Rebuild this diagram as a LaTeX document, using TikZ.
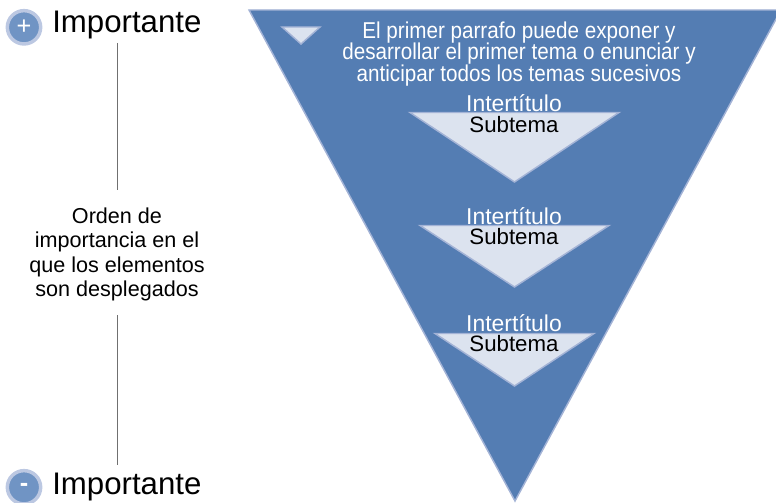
\documentclass[tikz,border=0pt]{standalone}
\usepackage{fontspec}
\setmainfont{Liberation Sans}
\newfontfamily\condfont[FakeStretch=0.90]{Liberation Sans}
\tikzset{
  px/.style={x=0.75pt,y=-0.75pt},
  funnel/.style={fill=blueMain,draw=blueEdge,line width=1.1pt,line join=miter},
  inner/.style={fill=blueLight,draw=blueEdge,line width=1.1pt,line join=miter},
  badgeouter/.style={circle,draw=badgeRing,line width=2.6pt,fill=badgeFill,minimum size=25pt,inner sep=0pt,text=white,font=\fontsize{19}{19}\selectfont},
  label/.style={inner sep=0pt,font=\fontsize{23.4}{24}\selectfont,text=black,anchor=base west},
  side/.style={inner sep=0pt,align=center,font=\fontsize{16.2}{18.2}\selectfont,text=black},
  intro/.style={inner sep=0pt,align=center,text=white,font=\condfont\fontsize{17.2}{16.3}\selectfont},
  intert/.style={inner sep=0pt,text=white,font=\fontsize{17.2}{18}\selectfont,anchor=base},
  subt/.style={inner sep=0pt,text=black,font=\fontsize{16.7}{18}\selectfont,anchor=base},
  rulegray/.style={draw=ruleGray,line width=0.75pt}
}
\definecolor{blueMain}{HTML}{547DB3}
\definecolor{blueEdge}{HTML}{A3B3D6}
\definecolor{blueLight}{HTML}{DCE3EF}
\definecolor{badgeRing}{HTML}{BCC8E2}
\definecolor{badgeFill}{HTML}{7094C4}
\definecolor{ruleGray}{HTML}{707070}
\begin{document}
\begin{tikzpicture}[px]
\useasboundingbox (0,0) rectangle (776,503);
\coordinate (ftl) at (249,10);
\coordinate (ftr) at (781,10);
\coordinate (fb) at (515,501);
\begin{scope}
\clip (0,0) rectangle (776,503);
\draw[funnel] (ftl) -- (ftr) -- (fb) -- cycle;
\end{scope}
\draw[inner] (282,27) -- (320,27) -- (301,44) -- cycle;
\draw[inner] (410,112.5) -- (619,112.5) -- (514.5,182) -- cycle;
\draw[inner] (420,225.5) -- (609,225.5) -- (514.5,287) -- cycle;
\draw[inner] (435,333.5) -- (594,333.5) -- (514.5,386) -- cycle;
\node[intro] (para) at (519,54) {El primer parrafo puede exponer y\\desarrollar el primer tema o enunciar y\\anticipar todos los temas sucesivos};
\node[intert] (i1) at (514,111.5) {Intertítulo};
\node[subt] (s1) at (514,132.5) {Subtema};
\node[intert] (i2) at (514,224) {Intertítulo};
\node[subt] (s2) at (514,244.5) {Subtema};
\node[intert] (i3) at (514,331) {Intertítulo};
\node[subt] (s3) at (514,351) {Subtema};
\node[badgeouter] (plus) at (24,27.3) {+};
\node[badgeouter] (minus) at (24,487.3) {\textbf{-}};
\node[label] (top) at (52,33) {Importante};
\node[label] (bot) at (52,494) {Importante};
\node[side] (mid) at (117,254.5) {Orden de\\importancia en el\\que los elementos\\son desplegados};
\coordinate (r1a) at (117,43);
\coordinate (r1b) at (117,190);
\coordinate (r2a) at (117,315);
\coordinate (r2b) at (117,465);
\draw[rulegray] (r1a) -- (r1b);
\draw[rulegray] (r2a) -- (r2b);
\end{tikzpicture}
\end{document}
